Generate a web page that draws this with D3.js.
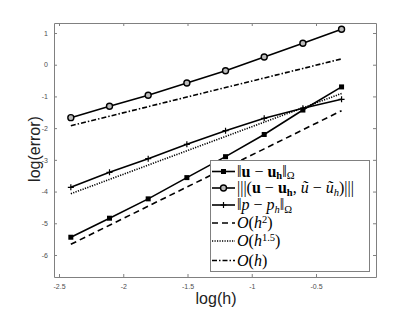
<!DOCTYPE html>
<html><head><meta charset="utf-8">
<script src="https://cdn.jsdelivr.net/npm/d3@7"></script>
<style>body{margin:0;background:#fff}svg{display:block}</style>
</head><body>
<svg id="c" width="415" height="312"></svg>
<script>
// ---- data ----
const logH = [-2.408, -2.107, -1.806, -1.505, -1.204, -0.903, -0.602, -0.301];
const errU = [-5.44, -4.84, -4.23, -3.56, -2.90, -2.20, -1.43, -0.70];
const errEnergy = [-1.67, -1.31, -0.965, -0.577, -0.19, 0.243, 0.675, 1.117];
const errP = [-3.866, -3.393, -2.964, -2.51, -2.081, -1.69, -1.375, -1.091];
const refH2 = [-5.664, -5.062, -4.460, -3.858, -3.256, -2.654, -2.052, -1.450];
const refH15 = [-4.068, -3.617, -3.165, -2.714, -2.262, -1.811, -1.359, -0.908];
const refH1 = [-1.924, -1.623, -1.322, -1.021, -0.720, -0.419, -0.118, 0.183];
const xTicks = [-2.5, -2, -1.5, -1, -0.5];
const xTickLabels = ["-2.5", "-2", "-1.5", "-1", "-0.5"];
const yTicks = [1, 0, -1, -2, -3, -4, -5, -6];
const yTickLabels = ["1", "0", "-1", "-2", "-3", "-4", "-5", "-6"];

const svg = d3.select("#c");
const L = 54, R = 376, T = 23, B = 277;
const x = d3.scaleLinear().domain([-2.539, -0.033]).range([L, R]);
const y = d3.scaleLinear().domain([-6.694, 1.315]).range([B, T]);
const axisCol = "#808080";

function styleAxis(g, labels) {
  g.select(".domain").attr("stroke", axisCol).attr("stroke-width", 1);
  g.selectAll(".tick line").attr("stroke", axisCol);
  g.selectAll(".tick text").attr("fill", "#4d4d4d").style("font", "7px 'Liberation Sans', Arial, sans-serif");
  if (!labels) g.selectAll(".tick text").remove();
}
svg.append("g").attr("transform", `translate(0,${B})`)
  .call(d3.axisBottom(x).tickValues(xTicks).tickFormat((d,i)=>xTickLabels[i]).tickSizeInner(-3).tickSizeOuter(0).tickPadding(7))
  .call(g=>styleAxis(g,true));
svg.append("g").attr("transform", `translate(0,${T})`)
  .call(d3.axisTop(x).tickValues(xTicks).tickSizeInner(-3).tickSizeOuter(0))
  .call(g=>styleAxis(g,false));
svg.append("g").attr("transform", `translate(${L},0)`)
  .call(d3.axisLeft(y).tickValues(yTicks).tickFormat((d,i)=>yTickLabels[i]).tickSizeInner(-3).tickSizeOuter(0).tickPadding(6))
  .call(g=>styleAxis(g,true));
svg.append("g").attr("transform", `translate(${R},0)`)
  .call(d3.axisRight(y).tickValues(yTicks).tickSizeInner(-3).tickSizeOuter(0))
  .call(g=>styleAxis(g,false));

svg.append("text").attr("x", 216).attr("y", 304).attr("text-anchor", "middle")
  .style("font", "16px 'Liberation Sans', Arial, sans-serif").attr("fill", "#222").text("log(h)");
svg.append("text").attr("transform", "translate(40,149) rotate(-90)").attr("text-anchor", "middle")
  .style("font", "16px 'Liberation Sans', Arial, sans-serif").attr("fill", "#222").text("log(error)");

const series = [
  {vals: errU, dash: null, w: 1.6, marker: "square"},
  {vals: errEnergy, dash: null, w: 1.6, marker: "circle"},
  {vals: errP, dash: null, w: 1.6, marker: "plus"},
  {vals: refH2, dash: "6,4", w: 1.6, marker: null},
  {vals: refH15, dash: "1.2,1.3", w: 1.6, marker: null},
  {vals: refH1, dash: "5,2,1.5,2", w: 1.6, marker: null},
];
const line = d3.line().x((d,i)=>x(logH[i])).y(d=>y(d));
function drawMarker(g, type, cx, cy) {
  if (type === "square") g.append("rect").attr("x", cx-2.5).attr("y", cy-2.5).attr("width", 5).attr("height", 5).attr("fill", "#000");
  else if (type === "circle") g.append("circle").attr("cx", cx).attr("cy", cy).attr("r", 3).attr("fill", "#bbb").attr("stroke", "#000").attr("stroke-width", 1.4);
  else if (type === "plus") g.append("path").attr("d", `M${cx-3},${cy}H${cx+3}M${cx},${cy-3}V${cy+3}`).attr("stroke", "#000").attr("stroke-width", 1.2);
}
series.forEach(s => {
  svg.append("path").datum(s.vals).attr("d", line).attr("fill", "none")
    .attr("stroke", "#000").attr("stroke-width", s.w).attr("stroke-dasharray", s.dash);
  if (s.marker) {
    const g = svg.append("g");
    s.vals.forEach((v,i) => drawMarker(g, s.marker, x(logH[i]), y(v)));
  }
});

const legendLabels = [
  [["‖","r"],["u","b"],[" − ","r"],["u","b"],["h","b",1],["‖","r"],["Ω","r",1]],
  [["|||(","r"],["u","b"],[" − ","r"],["u","b"],["h","b",1],[", ","r"],["ũ","i"],[" − ","r"],["ũ","i"],["h","i",1],[")|||","r"]],
  [["‖","r"],["p","i"],[" − ","r"],["p","i"],["h","i",1],["‖","r"],["Ω","r",1]],
  [["O","i"],["(","r"],["h","i"],["2","r",-1],[")","r"]],
  [["O","i"],["(","r"],["h","i"],["1.5","r",-1],[")","r"]],
  [["O","i"],["(","r"],["h","i"],[")","r"]],
];
const rowY = [171.5, 188, 205, 223, 241, 260.5];
const lg = svg.append("g");
lg.append("rect").attr("x", 210.5).attr("y", 160.5).attr("width", 159).attr("height", 111)
  .attr("fill", "#fff").attr("stroke", axisCol).attr("stroke-width", 1);
series.forEach((s, i) => {
  const yy = rowY[i];
  lg.append("line").attr("x1", 212).attr("x2", 235).attr("y1", yy).attr("y2", yy)
    .attr("stroke", "#000").attr("stroke-width", s.w).attr("stroke-dasharray", s.dash);
  if (s.marker) drawMarker(lg, s.marker, 223.5, yy);
  const t = lg.append("text").attr("x", 237).attr("y", yy + 5)
    .style("font-family", "'Liberation Serif', 'Times New Roman', serif").style("font-size", "16px").attr("fill", "#000");
  let shift = 0;
  legendLabels[i].forEach(([txt, st, sub]) => {
    const target = sub === 1 ? 2.5 : sub === -1 ? -5.5 : 0;
    const ts = t.append("tspan").text(txt).attr("dy", target - shift);
    shift = target;
    if (sub) ts.style("font-size", "10.5px");
    if (st === "b") ts.style("font-weight", "bold");
    if (st === "i") ts.style("font-style", "italic");
  });
});
</script>
</body></html>
